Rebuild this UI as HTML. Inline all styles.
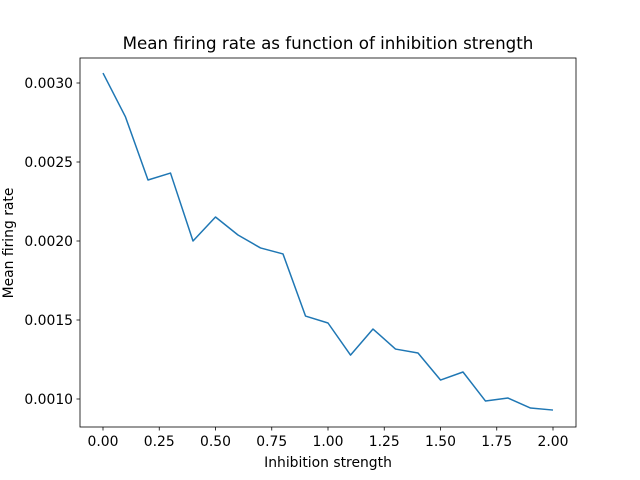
<!DOCTYPE html>
<html><head><meta charset="utf-8"><style>
body{margin:0;background:#fff;}
svg{display:block;font-family:"DejaVu Sans","Liberation Sans",sans-serif;}
</style></head><body>
<svg id="chart" width="640" height="480" viewBox="0 0 640 480">
<rect x="0" y="0" width="640" height="480" fill="#fff"/>
<text x="328" y="49" text-anchor="middle" font-size="16.7">Mean firing rate as function of inhibition strength</text>
<text x="328" y="467" text-anchor="middle" font-size="13.9">Inhibition strength</text>
<text transform="translate(13,243) rotate(-90)" text-anchor="middle" font-size="13.9">Mean firing rate</text>
<g id="ticks"></g>
<polyline id="series" fill="none" stroke="#1f77b4" stroke-width="1.5" stroke-linejoin="round"/>
<rect x="80" y="58" width="496" height="369" fill="none" stroke="#000" stroke-width="0.8"/>
</svg>
<script>
const xValues = [0,0.1,0.2,0.3,0.4,0.5,0.6,0.7,0.8,0.9,1.0,1.1,1.2,1.3,1.4,1.5,1.6,1.7,1.8,1.9,2.0];
const rateValues = [0.003063,0.002785,0.002386,0.002430,0.002000,0.002152,0.002038,0.001956,0.001918,0.001525,0.001481,0.001278,0.001443,0.001316,0.001291,0.001120,0.001171,0.000987,0.001006,0.000943,0.000930];
const xTicks = [0,0.25,0.5,0.75,1.0,1.25,1.5,1.75,2.0];
const xTickLabels = ["0.00","0.25","0.50","0.75","1.00","1.25","1.50","1.75","2.00"];
const yTicks = [0.0010,0.0015,0.0020,0.0025,0.0030];
const yTickLabels = ["0.0010","0.0015","0.0020","0.0025","0.0030"];

const NS="http://www.w3.org/2000/svg";
function xs(v){return 103+v*225;}
function ys(v){return 399-(v-0.001)*158000;}
const g=document.getElementById('ticks');
xTicks.forEach((t,i)=>{
  const l=document.createElementNS(NS,'line');
  l.setAttribute('x1',xs(t));l.setAttribute('x2',xs(t));l.setAttribute('y1',427);l.setAttribute('y2',430.5);
  l.setAttribute('stroke','#000');l.setAttribute('stroke-width','0.8');
  
  
  g.appendChild(l);
  const tx=document.createElementNS(NS,'text');
  tx.setAttribute('x',xs(t));tx.setAttribute('y',446);tx.setAttribute('text-anchor','middle');tx.setAttribute('font-size','13.9');
  tx.textContent=xTickLabels[i];
  
  
  g.appendChild(tx);
});
yTicks.forEach((t,i)=>{
  const l=document.createElementNS(NS,'line');
  l.setAttribute('x1',76.5);l.setAttribute('x2',80);l.setAttribute('y1',ys(t));l.setAttribute('y2',ys(t));
  l.setAttribute('stroke','#000');l.setAttribute('stroke-width','0.8');
  
  
  g.appendChild(l);
  const tx=document.createElementNS(NS,'text');
  tx.setAttribute('x',73);tx.setAttribute('y',ys(t)+5);tx.setAttribute('text-anchor','end');tx.setAttribute('font-size','13.9');
  tx.textContent=yTickLabels[i];
  
  
  g.appendChild(tx);
});
document.getElementById('series').setAttribute('points',xValues.map((x,i)=>xs(x)+','+ys(rateValues[i])).join(' '));
</script>
</body></html>
